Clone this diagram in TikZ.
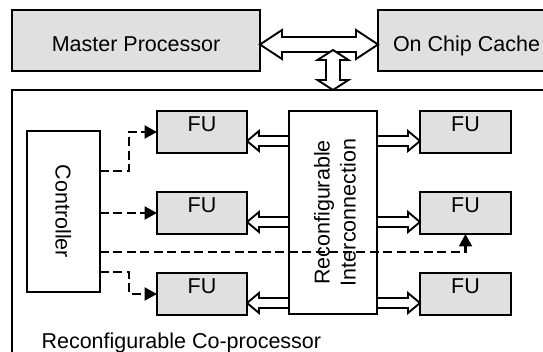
\documentclass[tikz,border=0pt]{standalone}
\usepackage{fontspec}
\setmainfont{Liberation Sans}
\usetikzlibrary{arrows.meta,calc}
\definecolor{boxgrey}{RGB}{224,224,224}
\newcommand{\fatleft}[2]{\filldraw[fat] (#1) -- ([shift={(12,-10)}]#1) -- ([shift={(12,-5)}]#1) -- ([shift={(0,-5)}]#2) -- ([shift={(0,5)}]#2) -- ([shift={(12,5)}]#1) -- ([shift={(12,10)}]#1) -- cycle;}
\newcommand{\fatright}[2]{\filldraw[fat] (#1) -- ([shift={(-12,-10)}]#1) -- ([shift={(-12,-5)}]#1) -- ([shift={(0,-5)}]#2) -- ([shift={(0,5)}]#2) -- ([shift={(-12,5)}]#1) -- ([shift={(-12,10)}]#1) -- cycle;}
\begin{document}
\begin{tikzpicture}[x=1pt,y=-1pt,
  every node/.style={font=\fontsize{21.5pt}{26pt}\selectfont},
  box/.style={draw, line width=2.2pt, inner sep=0pt, outer sep=0pt},
  greybox/.style={box, fill=boxgrey},
  fubox/.style={greybox, minimum width=90pt, minimum height=42pt, text height=12pt, text depth=12pt},
  fat/.style={draw, fill=white, line width=1.9pt, line join=miter},
  ctrlline/.style={line width=2.2pt, dash pattern=on 9pt off 4.5pt, -{Triangle[length=12.5pt,width=13pt]}}]
\useasboundingbox (0,0) rectangle (543,352);
\fill[white] (0,0) rectangle (543,352);
\clip (0,0) rectangle (543,352);
% outer boxes
\node[box, fill=white, anchor=north west, minimum width=560pt, minimum height=300pt] (cop) at (12,90) {};
\node[greybox, minimum width=248pt, minimum height=61pt, text height=22pt, text depth=0pt] (master) at (136,40.5) {Master Processor};
\node[greybox, minimum width=177pt, minimum height=61pt, text height=22pt, text depth=0pt] (cache) at (466.5,40.5) {On Chip Cache};
\node[anchor=base west] (coplabel) at (38,348.5) {Reconfigurable Co-processor};
% top double arrow
\coordinate (hl) at ($(master.east)+(0,4)$);
\coordinate (hr) at (cache.west |- hl);
\filldraw[fat] (hl) -- ([shift={(22,-14.5)}]hl) -- ([shift={(22,-7.5)}]hl) -- ([shift={(-22,-7.5)}]hr) -- ([shift={(-22,-14.5)}]hr) -- (hr) -- ([shift={(-22,14.5)}]hr) -- ([shift={(-22,7.5)}]hr) -- ([shift={(22,7.5)}]hl) -- ([shift={(22,14.5)}]hl) -- cycle;
% vertical double arrow
\coordinate (vt) at (333,50);
\coordinate (vb) at (vt |- cop.north);
\filldraw[fat] (vt) -- ([shift={(15.5,10)}]vt) -- ([shift={(7,10)}]vt) -- ([shift={(7,-10)}]vb) -- ([shift={(15.5,-10)}]vb) -- (vb) -- ([shift={(-15.5,-10)}]vb) -- ([shift={(-7,-10)}]vb) -- ([shift={(-7,10)}]vt) -- ([shift={(-15.5,10)}]vt) -- cycle;
% inner boxes
\node[box, fill=white, minimum width=88pt, minimum height=203pt] (recon) at (333,212.5) {};
\node[rotate=90, align=center] (recontext) at ([xshift=2pt]recon.center) {Reconfigurable\\Interconnection};
\node[box, fill=white, minimum width=73pt, minimum height=161pt] (ctrl) at (63.3,211.4) {};
\node[rotate=-90] (ctrltext) at (ctrl.center) {Controller};
\node[fubox] (fuL1) at (202,132) {FU};
\node[fubox] (fuL2) at (202,213) {FU};
\node[fubox] (fuL3) at (202,294) {FU};
\node[fubox, minimum width=91pt] (fuR1) at (465.5,132) {FU};
\node[fubox, minimum width=91pt] (fuR2) at (465.5,213) {FU};
\node[fubox, minimum width=91pt] (fuR3) at (465.5,294) {FU};
% hollow arrows between interconnection and FUs
\foreach \i in {1,2,3}{
  \coordinate (aL\i) at ($(fuL\i.east)+(0,9)$);
  \coordinate (bL\i) at (recon.west |- aL\i);
  \fatleft{aL\i}{bL\i}
  \coordinate (aR\i) at ($(fuR\i.west)+(0,9)$);
  \coordinate (bR\i) at (recon.east |- aR\i);
  \fatright{aR\i}{bR\i}
}
% control lines
\draw[ctrlline] ($(ctrl.north east)+(0,40.5)$) -- ++(29,0) |- (fuL1.west);
\draw[ctrlline] (ctrl.east |- fuL2.west) -- (fuL2.west);
\draw[ctrlline] ($(ctrl.south east)+(0,-20)$) -- ++(29,0) |- (fuL3.west);
\draw[ctrlline] ($(ctrl.south east)+(0,-40)$) -| (fuR2.south);
\end{tikzpicture}
\end{document}
